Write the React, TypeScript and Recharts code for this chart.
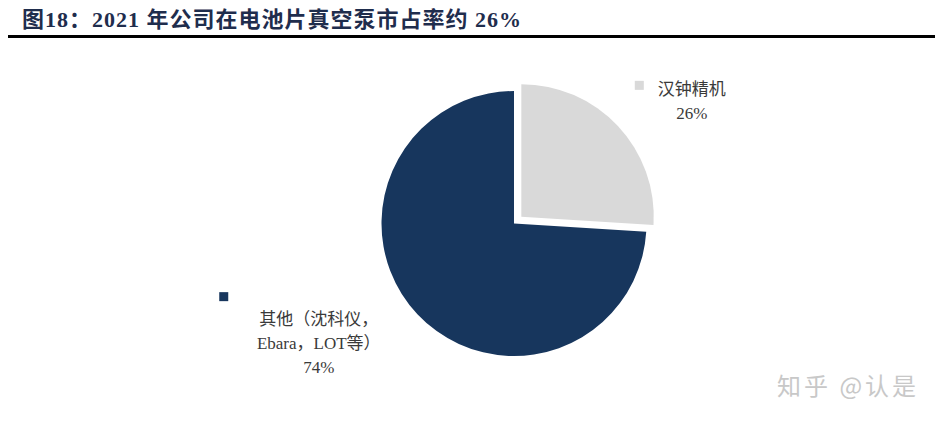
import { PieChart, Pie, Cell } from 'recharts';

const names = ['汉钟精机', '其他（沈科仪，Ebara，LOT等）'];
const labelLines = [['汉钟精机', '26%'], ['其他（沈科仪，', 'Ebara，LOT等）', '74%']];
const shares = [26, 74];
const colors = ['#d9d9d9', '#17365d'];

const data = names.map((name, i) => ({ name, value: shares[i] }));

const CX = 514;
const CY = 223.5;
const R = 132.5;
const RAD = Math.PI / 180;
const EXPLODE = 10;

// pie goes clockwise from 12 o'clock
const total = shares.reduce((a, b) => a + b, 0);
const midAngle0 = 90 - (shares[0] / total) * 180;
const dx = EXPLODE * Math.cos(midAngle0 * RAD);
const dy = -EXPLODE * Math.sin(midAngle0 * RAD);

const serif = '"Liberation Serif", "Noto Sans CJK SC", serif';

// label placement tweaks per slice
const angleShift = [-8.6, -11.7];
const labelDist = [216, 229];
const markOffset = [
  [-52.5, -15.5],
  [-95, -46.5],
];
const LH = 24;

const renderLabel = (props: any) => {
  const { midAngle, index } = props;
  const a = (midAngle + angleShift[index]) * RAD;
  const x = CX + labelDist[index] * Math.cos(a);
  const y = CY - labelDist[index] * Math.sin(a);
  const lines = labelLines[index];
  const top = y - ((lines.length - 1) * LH) / 2;
  const mx = x + markOffset[index][0];
  const my = y + markOffset[index][1];
  return (
    <g key={`lbl-${index}`}>
      <rect x={mx - 4.5} y={my - 4.5} width={9} height={9} fill={colors[index]} />
      {lines.map((t, j) => (
        <text
          key={j}
          x={x}
          y={top + j * LH + 6}
          textAnchor="middle"
          fontSize={17}
          fontFamily={serif}
          fill="#3a3a3a"
        >
          {t}
        </text>
      ))}
    </g>
  );
};

export default function App() {
  return (
    <div style={{ position: 'relative', width: 946, height: 424, background: '#fff' }}>
      <style>{'body{margin:0}'}</style>
      <div
        style={{
          position: 'absolute',
          left: 22,
          top: 1,
          fontFamily: serif,
          fontWeight: 'bold',
          fontSize: 22,
          letterSpacing: 1,
          color: '#1f2d4d',
          whiteSpace: 'nowrap',
        }}
      >
        图18：2021 年公司在电池片真空泵市占率约 26%
      </div>
      <div
        style={{ position: 'absolute', left: 8, top: 35, width: 927, height: 3, background: '#000' }}
      />
      <PieChart
        width={946}
        height={424}
        margin={{ top: 0, right: 0, bottom: 0, left: 0 }}
        style={{ position: 'absolute', left: 0, top: 0 }}
      >
        <Pie
          data={data}
          dataKey="value"
          cx={CX}
          cy={CY}
          outerRadius={R}
          startAngle={90}
          endAngle={-270}
          stroke="none"
          isAnimationActive={false}
          label={renderLabel}
          labelLine={false}
        >
          {data.map((d, i) => (
            <Cell key={d.name} fill={i === 0 ? 'transparent' : colors[i]} />
          ))}
        </Pie>
        <Pie
          data={data}
          dataKey="value"
          cx={CX + dx}
          cy={CY + dy}
          outerRadius={R}
          startAngle={90}
          endAngle={-270}
          stroke="none"
          isAnimationActive={false}
        >
          {data.map((d, i) => (
            <Cell key={d.name} fill={i === 0 ? colors[i] : 'transparent'} />
          ))}
        </Pie>
      </PieChart>
      <div
        style={{
          position: 'absolute',
          left: 777,
          top: 367,
          fontFamily: '"Noto Sans CJK SC", sans-serif',
          fontSize: 24,
          letterSpacing: 3,
          color: '#c8c8c8',
          whiteSpace: 'nowrap',
        }}
      >
        知乎 @认是
      </div>
    </div>
  );
}
